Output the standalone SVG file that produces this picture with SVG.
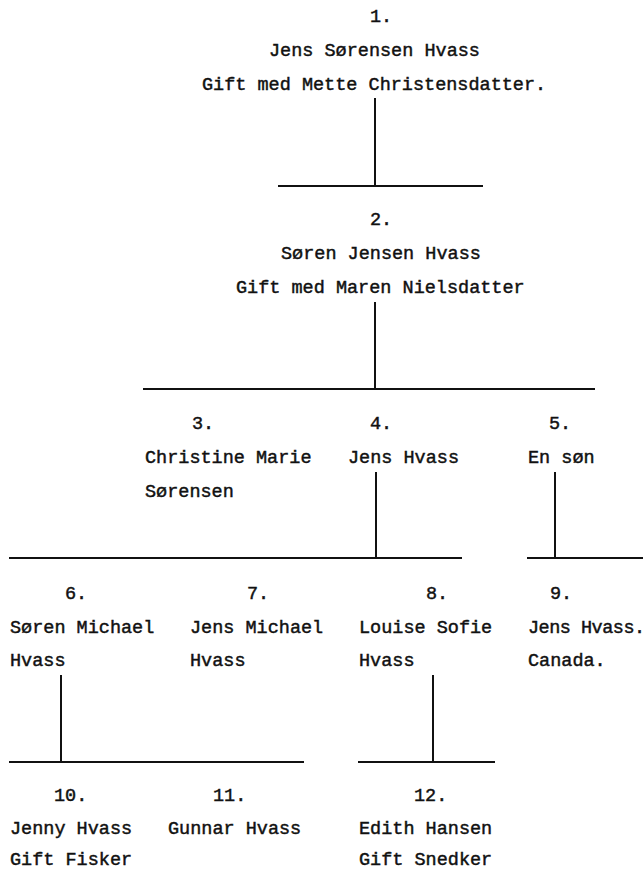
<svg xmlns="http://www.w3.org/2000/svg" width="643" height="870" viewBox="0 0 643 870">
<style>
text{font-family:"Liberation Mono","DejaVu Sans Mono",monospace;font-size:18.5px;fill:#111;stroke:#111;stroke-width:0.45}
.c line{stroke:#111;stroke-width:2}
</style>
<rect width="643" height="870" fill="#fff"/>
<g id="n1"><text x="370" y="22">1.</text><text x="269" y="56">Jens Sørensen Hvass</text><text x="202" y="90">Gift med Mette Christensdatter.</text></g>
<g id="n2"><text x="370" y="225">2.</text><text x="281" y="259">Søren Jensen Hvass</text><text x="236" y="293">Gift med Maren Nielsdatter</text></g>
<g id="n3"><text x="192" y="429">3.</text><text x="145" y="463">Christine Marie</text><text x="145" y="497">Sørensen</text></g>
<g id="n4"><text x="370" y="429">4.</text><text x="348" y="463">Jens Hvass</text></g>
<g id="n5"><text x="549" y="429">5.</text><text x="528" y="463">En søn</text></g>
<g id="n6"><text x="65" y="599">6.</text><text x="10" y="633">Søren Michael</text><text x="10" y="666">Hvass</text></g>
<g id="n7"><text x="247" y="599">7.</text><text x="190" y="633">Jens Michael</text><text x="190" y="666">Hvass</text></g>
<g id="n8"><text x="426" y="599">8.</text><text x="359" y="633">Louise Sofie</text><text x="359" y="666">Hvass</text></g>
<g id="n9"><text x="550" y="599">9.</text><text x="528" y="633" letter-spacing="-0.5">Jens Hvass.</text><text x="528" y="666">Canada.</text></g>
<g id="n10"><text x="54" y="801">10.</text><text x="10" y="834">Jenny Hvass</text><text x="10" y="865">Gift Fisker</text></g>
<g id="n11"><text x="213" y="801">11.</text><text x="168" y="834">Gunnar Hvass</text></g>
<g id="n12"><text x="414" y="801">12.</text><text x="359" y="834">Edith Hansen</text><text x="359" y="865">Gift Snedker</text></g>
<g id="connectors" class="c">
<line x1="375" y1="98" x2="375" y2="186"/>
<line x1="278" y1="186" x2="483" y2="186"/>
<line x1="375" y1="302" x2="375" y2="389"/>
<line x1="143" y1="389" x2="595" y2="389"/>
<line x1="376" y1="472" x2="376" y2="558"/>
<line x1="9" y1="558" x2="462" y2="558"/>
<line x1="555" y1="472" x2="555" y2="558"/>
<line x1="527" y1="558" x2="643" y2="558"/>
<line x1="61" y1="675" x2="61" y2="762"/>
<line x1="9" y1="762" x2="304" y2="762"/>
<line x1="433" y1="675" x2="433" y2="762"/>
<line x1="358" y1="762" x2="495" y2="762"/>
</g>
</svg>
